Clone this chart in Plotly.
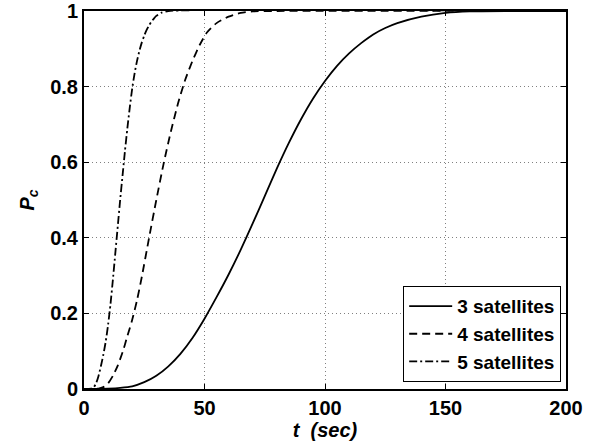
import plotly.graph_objects as go

# 3 satellites (solid)
t3 = [0, 5, 10, 15, 20, 25, 30, 35, 40, 45, 50, 55, 60, 65, 70, 75, 80, 85, 90, 95,
      100, 105, 110, 115, 120, 125, 130, 140, 150, 160, 175, 200]
p3 = [0, 0, 0.001, 0.003, 0.007, 0.018, 0.035, 0.06, 0.093, 0.135, 0.186, 0.243, 0.303,
      0.368, 0.438, 0.51, 0.583, 0.651, 0.713, 0.768, 0.815, 0.855, 0.888, 0.915, 0.938,
      0.955, 0.968, 0.985, 0.995, 0.999, 1, 1]

# 4 satellites (dashed)
t4 = [0, 6, 8, 10, 12, 14, 16, 18, 20, 22, 24, 27, 30, 33, 36, 39, 42, 45, 48, 51,
      55, 60, 65, 70, 80, 200]
p4 = [0, 0.001, 0.005, 0.015, 0.035, 0.062, 0.097, 0.14, 0.183, 0.235, 0.297, 0.4, 0.5,
      0.595, 0.68, 0.755, 0.818, 0.868, 0.91, 0.943, 0.968, 0.985, 0.995, 0.999, 1, 1]

# 5 satellites (dash-dot)
t5 = [0, 3, 4, 5, 6, 7, 8, 9, 10, 11, 12, 13, 14, 15, 16, 17, 18, 19, 20, 21, 22, 23,
      24, 25, 26, 27, 28, 29, 30, 32, 35, 200]
p5 = [0, 0.001, 0.004, 0.015, 0.034, 0.06, 0.09, 0.125, 0.17, 0.225, 0.29, 0.36, 0.43,
      0.5, 0.565, 0.63, 0.69, 0.745, 0.795, 0.835, 0.868, 0.895, 0.917, 0.935, 0.95,
      0.962, 0.972, 0.98, 0.987, 0.995, 1, 1]

names = ["3 satellites", "4 satellites", "5 satellites"]
xticks = [0, 50, 100, 150, 200]
yticks = [0, 0.2, 0.4, 0.6, 0.8, 1]
ytext = ["0", "0.2", "0.4", "0.6", "0.8", "1"]

fig = go.Figure()
for t, p, nm, dash in [(t3, p3, names[0], "solid"),
                       (t4, p4, names[1], "8px,5px"),
                       (t5, p5, names[2], "8px,3px,2px,3px")]:
    fig.add_trace(go.Scatter(x=t, y=p, name=nm, mode="lines",
                             line=dict(color="black", width=1.8, dash=dash,
                                       shape="spline", smoothing=0.6)))

fig.update_layout(
    width=600, height=444,
    margin=dict(l=84, r=34, t=11, b=55, autoexpand=False),
    paper_bgcolor="white", plot_bgcolor="white",
    font=dict(family="Liberation Sans, Arial, sans-serif", size=20, color="black", weight="bold"),
    showlegend=True,
    legend=dict(x=0.99, y=0.018, xanchor="right", yanchor="bottom",
                bgcolor="white", bordercolor="black", borderwidth=1,
                font=dict(size=19, weight="bold"), itemwidth=43,
                tracegroupgap=0),
)
common = dict(ticks="inside", ticklen=5, tickcolor="black", showline=True,
              linecolor="black", linewidth=2, mirror="ticks", showgrid=True,
              gridcolor="#808080", griddash="1px,3px", gridwidth=1, zeroline=False,
              automargin=False, ticklabeloverflow="allow")
fig.update_xaxes(range=[0, 200], tickvals=xticks, **common,
                 title=dict(text="<i>t  (sec)</i>", standoff=4,
                            font=dict(size=20, weight="bold")))
fig.update_yaxes(range=[0, 1], tickvals=yticks, ticktext=ytext, **common,
                 title=dict(text="<i>P<sub>c</sub></i>", standoff=10,
                            font=dict(size=20, weight="bold")))

fig.write_html("out.html")
